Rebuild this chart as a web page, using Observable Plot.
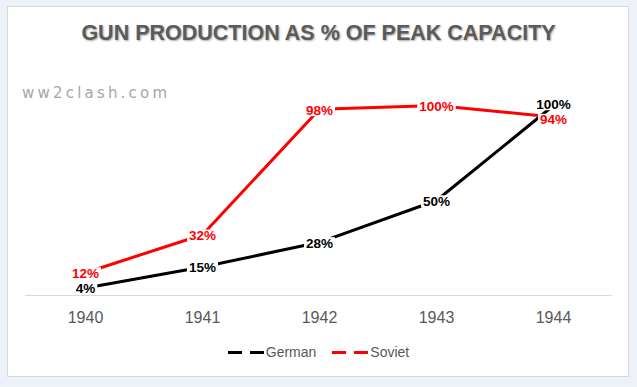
<!DOCTYPE html>
<html>
<head>
<meta charset="utf-8">
<script src="https://cdn.jsdelivr.net/npm/d3@7"></script>
<script src="https://cdn.jsdelivr.net/npm/@observablehq/plot@0.6"></script>
<style>
  html, body { margin: 0; padding: 0; }
  body { width: 637px; height: 387px; overflow: hidden; }
  #wrap { position: relative; width: 637px; height: 387px; background: #edf2f8; }
  #frame { position: absolute; left: 7px; top: 6px; width: 620px; height: 369px; background: #fff; border: 1px solid #d9d9d9; }
  #title { position: absolute; left: 0; top: 21px; width: 637px; text-align: center;
    font-family: "Liberation Sans", Arial, sans-serif; font-weight: bold; font-size: 21.5px;
    color: #5b5b5b; text-shadow: 1px 1px 2px rgba(0,0,0,0.35); }
  #mark { position: absolute; left: 22px; top: 84px; font-family: "DejaVu Sans", sans-serif;
    font-size: 15px; letter-spacing: 3.2px; color: #a6a6a6; }
  #chart { position: absolute; left: 0; top: 0; }
  #legend { position: absolute; top: 344px; left: 0; width: 637px; display: flex; justify-content: center; gap: 16px;
    font-family: "Liberation Sans", Arial, sans-serif; font-size: 14px; color: #595959; }
  .item { display: flex; align-items: center; }
  .dash { display: inline-block; width: 14px; height: 3px; margin-right: 8px; }
  .dash + .dash { margin-right: 2px; }
</style>
</head>
<body>
<div id="wrap">
  <div id="frame"></div>
  <div id="chart"></div>
  <div id="title"></div>
  <div id="mark"></div>
  <div id="legend"></div>
</div>
<script>
const titleText = "GUN PRODUCTION AS % OF PEAK CAPACITY";
const watermark = "ww2clash.com";
const years = ["1940", "1941", "1942", "1943", "1944"];
const seriesNames = ["German", "Soviet"];
const seriesColors = ["#000000", "#ff0000"];
const germanValues = [4, 15, 28, 50, 100];
const sovietValues = [12, 32, 98, 100, 94];

const W = 637, H = 387, mTop = 105, mBottom = 92;
const pxPerUnit = (H - mTop - mBottom) / 100;
const labelSize = 13.5;
const minGap = labelSize * 1.16;

const valuesBySeries = [germanValues, sovietValues];
const rows = [];
seriesNames.forEach((s, i) => {
  years.forEach((y, j) => rows.push({series: s, year: y, value: valuesBySeries[i][j], dy: 1}));
});
// spread labels that would collide at the same year
years.forEach(y => {
  const at = rows.filter(r => r.year === y).sort((a, b) => b.value - a.value);
  for (let k = 1; k < at.length; k++) {
    const gap = (at[k - 1].value - at[k].value) * pxPerUnit;
    if (gap < minGap) {
      const push = (minGap - gap) / 2;
      at[k - 1].dy -= push;
      at[k].dy += push;
    }
  }
});

document.getElementById("title").textContent = titleText;
document.getElementById("mark").textContent = watermark;

const chart = Plot.plot({
  width: W,
  height: H,
  marginLeft: 25,
  marginRight: 25,
  marginTop: mTop,
  marginBottom: mBottom,
  style: {background: "transparent", overflow: "visible"},
  x: {type: "point", domain: years, padding: 0.5, label: null},
  y: {domain: [0, 100], axis: null},
  color: {domain: seriesNames, range: seriesColors},
  marks: [
    Plot.ruleY([0], {stroke: "#d9d9d9", strokeWidth: 1}),
    Plot.axisX({tickSize: 0, tickPadding: 16, fontSize: 16, fill: "#595959",
      fontFamily: "Liberation Sans, Arial, sans-serif", label: null}),
    Plot.lineY(rows, {x: "year", y: "value", z: "series", stroke: "series", strokeWidth: 3}),
    ...rows.map(r => Plot.text([r], {x: "year", y: "value", dy: r.dy, text: d => d.value + "%", fill: "series",
      fontWeight: "bold", fontSize: labelSize, fontFamily: "Liberation Sans, Arial, sans-serif"}))
  ]
});
document.getElementById("chart").appendChild(chart);

// white rectangular label backgrounds (like spreadsheet data labels)
const labelGroups = Array.from(chart.querySelectorAll('g[aria-label="text"]'));
const bg = document.createElementNS("http://www.w3.org/2000/svg", "g");
if (labelGroups.length) labelGroups[0].parentNode.insertBefore(bg, labelGroups[0]);
labelGroups.forEach(g => {
  g.querySelectorAll("text").forEach(t => {
    const b = t.getBBox();
    const tr = t.getAttribute("transform");
    const gtr = g.getAttribute("transform");
    const r = document.createElementNS("http://www.w3.org/2000/svg", "rect");
    r.setAttribute("x", b.x - 2);
    r.setAttribute("y", b.y + 1.5);
    r.setAttribute("width", b.width + 4);
    r.setAttribute("height", b.height - 3);
    r.setAttribute("fill", "white");
    const parts = [gtr, tr].filter(Boolean).join(" ");
    if (parts) r.setAttribute("transform", parts);
    bg.appendChild(r);
  });
});

const legend = document.getElementById("legend");
seriesNames.forEach((s, i) => {
  const item = document.createElement("div");
  item.className = "item";
  for (let k = 0; k < 2; k++) {
    const d = document.createElement("span");
    d.className = "dash";
    d.style.background = seriesColors[i];
    item.appendChild(d);
  }
  const t = document.createElement("span");
  t.textContent = s;
  item.appendChild(t);
  legend.appendChild(item);
});
</script>
</body>
</html>
